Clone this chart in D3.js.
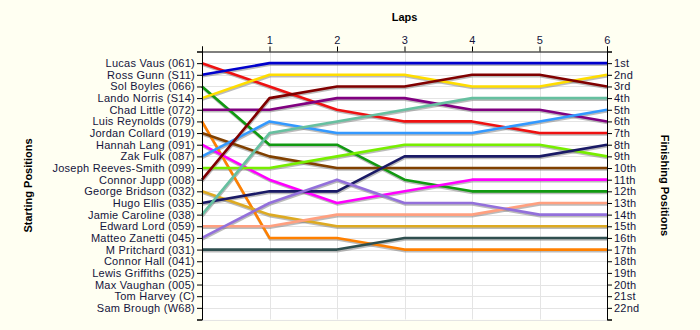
<!DOCTYPE html>
<html>
<head>
<meta charset="utf-8">
<script src="https://cdn.jsdelivr.net/npm/d3@7"></script>
<style>
  body { margin: 0; background: #fffff2; }
  svg text { font-family: "Liberation Sans", Arial, sans-serif; }
</style>
</head>
<body>
<div id="chart"></div>
<script>
// Starting grid (row order) and finishing labels
let drivers = ["Lucas Vaus (061)", "Ross Gunn (S11)", "Sol Boyles (066)", "Lando Norris (S14)",
    "Chad Little (072)", "Luis Reynolds (079)", "Jordan Collard (019)", "Hannah Lang (091)",
    "Zak Fulk (087)", "Joseph Reeves-Smith (099)", "Connor Jupp (008)", "George Bridson (032)",
    "Hugo Ellis (035)", "Jamie Caroline (038)", "Edward Lord (059)", "Matteo Zanetti (045)",
    "M Pritchard (031)", "Connor Hall (041)", "Lewis Griffiths (025)", "Max Vaughan (005)",
    "Tom Harvey (C)", "Sam Brough (W68)"]
let finishLabels = ["1st", "2nd", "3rd", "4th", "5th", "6th", "7th", "8th", "9th", "10th", "11th",
    "12th", "13th", "14th", "15th", "16th", "17th", "18th", "19th", "20th", "21st", "22nd"]
let laps = [1, 2, 3, 4, 5, 6]

// Positions at end of each lap, by starting position (index 0 = lap 0 start)
let positions = [
    [1, 3, 5, 6, 6, 7, 7],
    [2, 1, 1, 1, 1, 1, 1],
    [3, 8, 8, 11, 12, 12, 12],
    [4, 2, 2, 2, 3, 3, 2],
    [5, 5, 4, 4, 5, 5, 6],
    [6, 16, 16, 17, 17, 17, 17],
    [7, 9, 10, 10, 10, 10, 10],
    [8, 11, 13, 12, 11, 11, 11],
    [9, 6, 7, 7, 7, 6, 5],
    [10, 10, 9, 8, 8, 8, 9],
    [11, 4, 3, 3, 2, 2, 3],
    [12, 14, 15, 15, 15, 15, 15],
    [13, 12, 12, 9, 9, 9, 8],
    [14, 7, 6, 5, 4, 4, 4],
    [15, 15, 14, 14, 14, 13, 13],
    [16, 13, 11, 13, 13, 14, 14],
    [17, 17, 17, 16, 16, 16, 16]
]
let lineColors = ["#ee1111", "#0000cc", "#119911", "#ffdd00", "#800080", "#ff8000", "#804000",
    "#ff00ff", "#3399ff", "#77ee00", "#800000", "#ddaa22", "#1a1a66", "#66c0a0", "#ffa080",
    "#9370db", "#2f4f4f"]

let width = 700
let height = 330
let plotLeft = 202, plotRight = 607, plotTop = 51.5, plotBottom = 319.5

const svg = d3.select("#chart")
    .append("svg")
    .attr("width", width)
    .attr("height", height)

let x = d3.scaleLinear().domain([0, 6]).range([plotLeft, plotRight])
let y = d3.scaleLinear().domain([0, 23]).range([plotTop, plotBottom])

// Plot background
svg.append("rect")
    .attr("x", plotLeft).attr("y", plotTop)
    .attr("width", plotRight - plotLeft).attr("height", plotBottom - plotTop)
    .attr("fill", "#ffffff")

// Grid lines
svg.append("g")
    .selectAll("line")
    .data(d3.range(1, 24))
    .enter()
    .append("line")
    .attr("x1", plotLeft).attr("x2", plotRight)
    .attr("y1", d => Math.round(y(d)) + 0.5).attr("y2", d => Math.round(y(d)) + 0.5)
    .attr("stroke", "#e4e4e4")

svg.append("g")
    .selectAll("line")
    .data(d3.range(1, 6))
    .enter()
    .append("line")
    .attr("x1", d => Math.round(x(d)) + 0.5).attr("x2", d => Math.round(x(d)) + 0.5)
    .attr("y1", plotTop).attr("y2", plotBottom)
    .attr("stroke", "#e4e4e4")

// Lines with a soft shadow
let line = d3.line()
    .x((d, i) => x(i))
    .y(d => y(d))

let lines = svg.append("g")
lines.selectAll(".shadow")
    .data(positions)
    .enter()
    .append("path")
    .attr("class", "shadow")
    .attr("d", line)
    .attr("transform", "translate(0.5,1.5)")
    .attr("fill", "none")
    .attr("stroke", "#777")
    .attr("stroke-opacity", 0.5)
    .attr("stroke-width", 2.6)

lines.selectAll(".race")
    .data(positions)
    .enter()
    .append("path")
    .attr("class", "race")
    .attr("d", line)
    .attr("fill", "none")
    .attr("stroke", (d, i) => lineColors[i])
    .attr("stroke-width", 2.6)
    .attr("stroke-linejoin", "round")

// Axes
let rowTicks = d3.range(0, 24)
let leftAxis = d3.axisLeft(y).tickValues(rowTicks).tickSizeOuter(0).tickSize(5).tickPadding(2)
    .tickFormat(d => (d >= 1 && d <= 22) ? drivers[d - 1] : "")
let rightAxis = d3.axisRight(y).tickValues(rowTicks).tickSizeOuter(0).tickSize(5).tickPadding(2)
    .tickFormat(d => (d >= 1 && d <= 22) ? finishLabels[d - 1] : "")
let topAxis = d3.axisTop(x).tickValues(d3.range(0, 7)).tickSizeOuter(0).tickSize(5).tickPadding(3)
    .tickFormat(d => d === 0 ? "" : laps[d - 1])

svg.append("g")
    .attr("class", "axis")
    .attr("transform", `translate(${plotLeft},0)`)
    .call(leftAxis)

svg.append("g")
    .attr("class", "axis")
    .attr("transform", `translate(${plotRight},0)`)
    .call(rightAxis)

svg.append("g")
    .attr("class", "axis")
    .attr("transform", `translate(0,${plotTop})`)
    .call(topAxis)

svg.selectAll(".axis text")
    .attr("font-size", 11)
    .attr("letter-spacing", 0.25)
    .attr("font-family", "Liberation Sans, Arial, sans-serif")
    .attr("fill", "#14143c")
svg.selectAll(".axis path, .axis line").attr("stroke", "#000")

// Titles
svg.append("text")
    .attr("x", (plotLeft + plotRight) / 2)
    .attr("y", 21)
    .attr("text-anchor", "middle")
    .attr("font-size", 11)
    .attr("font-weight", "bold")
    .text("Laps")

svg.append("text")
    .attr("transform", `translate(32,${(plotTop + plotBottom) / 2}) rotate(-90)`)
    .attr("text-anchor", "middle")
    .attr("font-size", 11)
    .attr("font-weight", "bold")
    .text("Starting Positions")

svg.append("text")
    .attr("transform", `translate(661,${(plotTop + plotBottom) / 2}) rotate(90)`)
    .attr("text-anchor", "middle")
    .attr("font-size", 11)
    .attr("font-weight", "bold")
    .text("Finishing Positions")
</script>
</body>
</html>
